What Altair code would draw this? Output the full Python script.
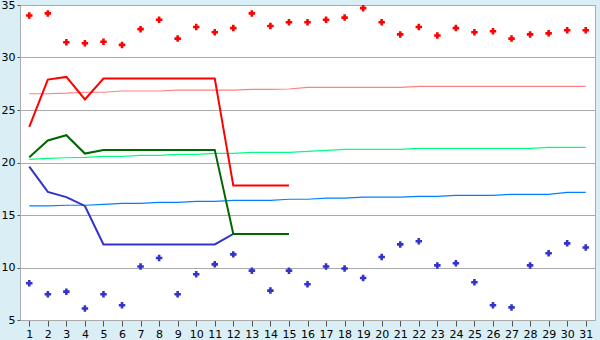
import altair as alt
import pandas as pd

days = list(range(1, 32))

max_pts = [34.0, 34.2, 31.45, 31.35, 31.5, 31.2, 32.7, 33.6, 31.8, 32.9,
           32.4, 32.8, 34.2, 33.0, 33.35, 33.35, 33.6, 33.8, 34.7, 33.35,
           32.2, 32.9, 32.1, 32.8, 32.4, 32.5, 31.8, 32.2, 32.3, 32.6, 32.6]
min_pts = [8.5, 7.45, 7.7, 6.1, 7.45, 6.4, 10.1, 10.9, 7.45, 9.35,
           10.3, 11.25, 9.7, 7.8, 9.7, 8.4, 10.1, 9.9, 9.0, 11.0,
           12.2, 12.5, 10.2, 10.4, 8.6, 6.4, 6.2, 10.2, 11.35, 12.3, 11.9]

line_days = list(range(1, 16))
red_line = [23.4, 27.9, 28.15, 26.0, 28.0, 28.0, 28.0, 28.0, 28.0, 28.0,
            28.0, 17.8, 17.8, 17.8, 17.8]
green_line = [20.5, 22.1, 22.6, 20.85, 21.2, 21.2, 21.2, 21.2, 21.2, 21.2,
              21.2, 13.2, 13.2, 13.2, 13.2]
blue_line = [19.6, 17.2, 16.7, 15.86, 12.2, 12.2, 12.2, 12.2, 12.2, 12.2,
             12.2, 13.2, 13.2, 13.2, 13.2]

pink_norm = [26.55, 26.55, 26.6, 26.69, 26.69, 26.81, 26.81, 26.81, 26.9, 26.9,
             26.9, 26.9, 26.97, 26.97, 27.0, 27.16, 27.16, 27.16, 27.16, 27.16,
             27.16, 27.25, 27.25, 27.25, 27.25, 27.25, 27.25, 27.25, 27.25, 27.25, 27.25]
green_norm = [20.3, 20.4, 20.45, 20.49, 20.59, 20.59, 20.68, 20.68, 20.78, 20.78,
              20.87, 20.87, 20.97, 20.97, 20.97, 21.06, 21.16, 21.25, 21.25, 21.25,
              21.25, 21.35, 21.35, 21.35, 21.35, 21.35, 21.35, 21.35, 21.44, 21.44, 21.44]
blue_norm = [15.86, 15.86, 15.93, 15.93, 16.02, 16.11, 16.11, 16.2, 16.2, 16.3,
             16.3, 16.4, 16.4, 16.4, 16.5, 16.5, 16.6, 16.6, 16.7, 16.7,
             16.7, 16.78, 16.78, 16.87, 16.87, 16.87, 16.97, 16.97, 16.97, 17.16, 17.16]

FONT = "DejaVu Sans"
GRID = "#aaaaaa"

xscale = alt.Scale(domain=[0.5, 31.5], nice=False, zero=False)
yscale = alt.Scale(domain=[5, 35], nice=False, zero=False)

xaxis = alt.Axis(values=days, title=None, grid=False, tickSize=6, tickColor="#555555",
                 domainColor=GRID, labelFont=FONT, labelFontSize=11, labelColor="#000000",
                 labelPadding=2, labelFlush=False, labelOverlap=False)
yaxis = alt.Axis(values=[5, 10, 15, 20, 25, 30, 35], title=None, grid=True, gridColor=GRID,
                 tickSize=3, tickColor="#555555", domainColor=GRID, labelFont=FONT,
                 labelFontSize=11, labelColor="#000000", labelPadding=2, labelFlush=False)


def line_layer(xs, ys, color, width):
    df = pd.DataFrame({"day": xs, "v": ys})
    return alt.Chart(df).mark_line(color=color, strokeWidth=width, interpolate="linear").encode(
        x=alt.X("day:Q", scale=xscale, axis=xaxis),
        y=alt.Y("v:Q", scale=yscale, axis=yaxis),
    )


def point_layer(xs, ys, color):
    df = pd.DataFrame({"day": xs, "v": ys})
    return alt.Chart(df).mark_point(shape="cross", filled=True, color=color, size=42, opacity=1).encode(
        x=alt.X("day:Q", scale=xscale, axis=xaxis),
        y=alt.Y("v:Q", scale=yscale, axis=yaxis),
    )


chart = alt.layer(
    line_layer(days, pink_norm, "#ff8080", 1.2),
    line_layer(days, green_norm, "#00ff80", 1.2),
    line_layer(days, blue_norm, "#0080ff", 1.2),
    point_layer(days, max_pts, "#ff0000"),
    point_layer(days, min_pts, "#3333cc"),
    line_layer(line_days, blue_line, "#3333cc", 2),
    line_layer(line_days, green_line, "#006600", 2),
    line_layer(line_days, red_line, "#ff0000", 2),
).properties(
    width=575,
    height=315,
    background="#d9eef5",
    padding={"left": 20, "top": 5, "right": 5, "bottom": 20},
    autosize=alt.AutoSizeParams(type="none"),
).configure_view(
    fill="#ffffff", stroke=GRID, strokeWidth=1
)

chart.save("out.html", embed_options={"renderer": "svg", "actions": False})
